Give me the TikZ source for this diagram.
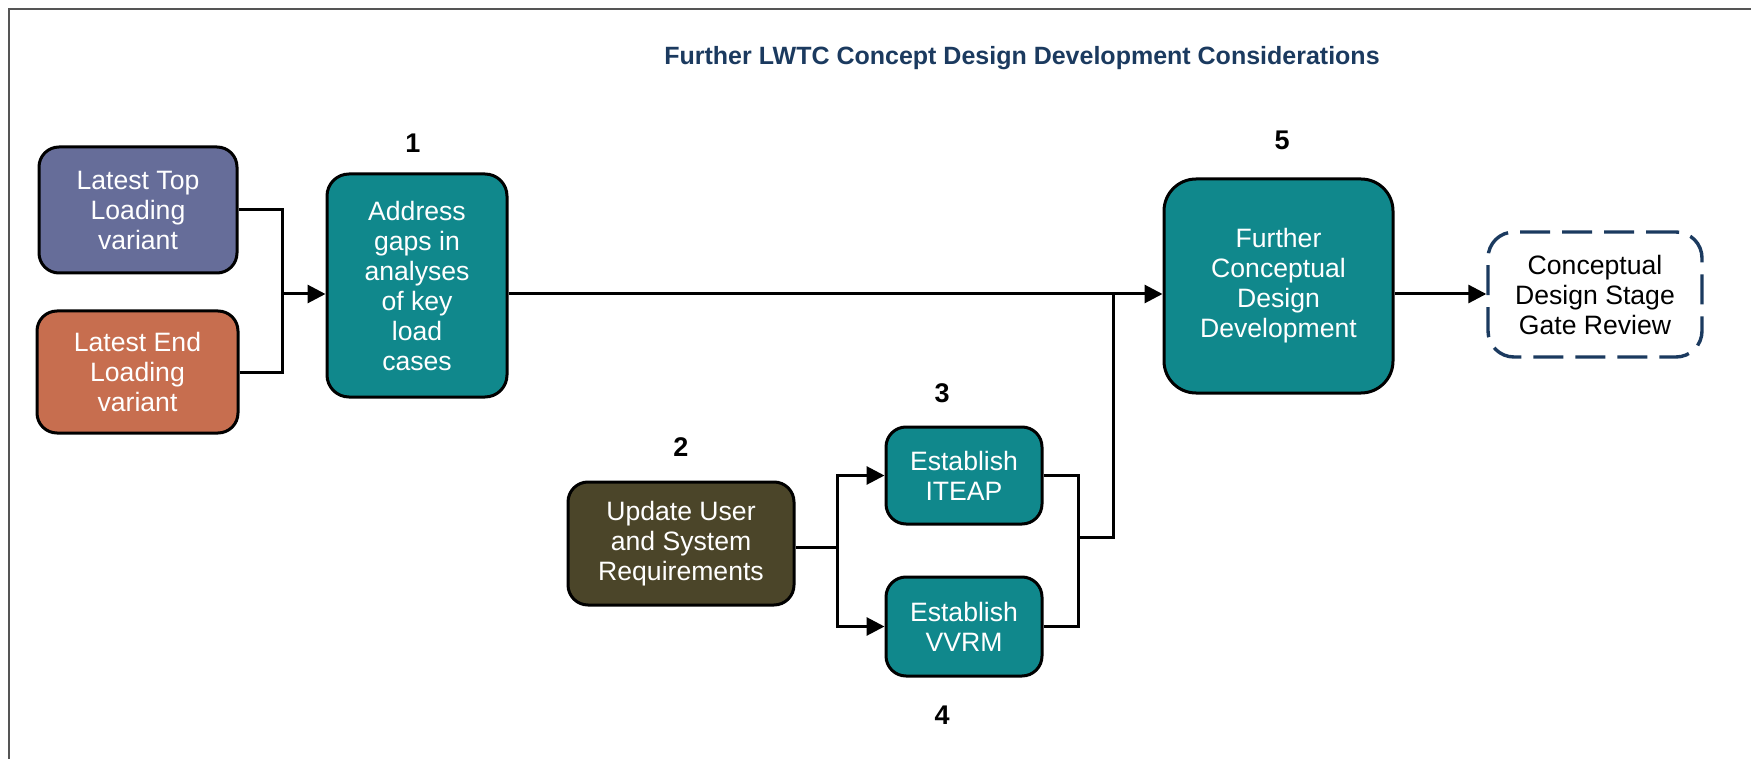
\documentclass[tikz,border=0pt]{standalone}
\usepackage{fontspec}
\setmainfont{Liberation Sans}
\usetikzlibrary{arrows.meta}
\definecolor{slate}{HTML}{666D99}
\definecolor{rust}{HTML}{C76E4F}
\definecolor{tealbox}{HTML}{10888C}
\definecolor{olivebox}{HTML}{4B4529}
\definecolor{navy}{HTML}{1B3A5F}
\definecolor{frame}{HTML}{555555}
\begin{document}
\begin{tikzpicture}[x=0.5pt,y=-0.5pt,
  box/.style={draw=black, line width=1.5pt, rounded corners=10pt, align=center,
    text=white, font=\fontsize{13.3}{15}\selectfont, inner sep=0pt},
  gatebox/.style={box, draw=navy, fill=white, text=black, line width=1.7pt,
    dash pattern=on 15pt off 6pt, rounded corners=13pt},
  wire/.style={line width=1.5pt},
  arr/.style={wire, -{Triangle[length=9pt,width=9pt]}},
  num/.style={font=\bfseries\fontsize{13.5}{15}\selectfont}
]
\useasboundingbox (0,0) rectangle (1751,759);
% page frame (left and top edges)
\draw[frame, line width=0.8pt] (9,759) -- (9,9) -- (1751,9);

% title
\node[font=\bfseries\fontsize{12.5}{15}\selectfont, text=navy] (title) at (1022,58)
  {Further LWTC Concept Design Development Considerations};

% step numbers
\node[num] (n1) at (413,143) {1};
\node[num] (n2) at (681,447) {2};
\node[num] (n3) at (942,393) {3};
\node[num] (n4) at (942,715) {4};
\node[num] (n5) at (1282,140) {5};

% boxes
\node[box, fill=slate, minimum width=99pt, minimum height=63pt] (top) at (138,210)
  {Latest Top\\Loading\\variant};
\node[box, fill=rust, minimum width=100.5pt, minimum height=61pt] (endv) at (137.5,372)
  {Latest End\\Loading\\variant};
\node[box, fill=tealbox, minimum width=90pt, minimum height=111.5pt, rounded corners=11pt] (addr) at (417,285.5)
  {Address\\gaps in\\analyses\\of key\\load\\cases};
\node[box, fill=tealbox, minimum width=114.5pt, minimum height=107pt, rounded corners=16pt] (dev) at (1278.5,286)
  {Further\\Conceptual\\Design\\Development};
\node[gatebox, minimum width=107pt, minimum height=62.5pt] (gate) at (1595,294.5)
  {Conceptual\\Design Stage\\Gate Review};
\node[box, fill=olivebox, minimum width=113pt, minimum height=61.5pt] (req) at (681,543.5)
  {Update User\\and System\\Requirements};
\node[box, fill=tealbox, minimum width=78pt, minimum height=48.5pt] (iteap) at (964,475.5)
  {Establish\\ITEAP};
\node[box, fill=tealbox, minimum width=78pt, minimum height=49.5pt] (vvrm) at (964,626.5)
  {Establish\\VVRM};

% junction points
\coordinate (feed) at (282,294);
\coordinate (spine) at (1113,294);
\coordinate (merge) at (1078,537);
\coordinate (split) at (837,547);

% connectors
\draw[wire] (top.east) -| (feed);
\draw[wire] (endv.east) -| (feed);
\draw[arr] (feed) -- (feed -| addr.west);
\draw[arr] (addr.east |- feed) -- (dev.west |- feed);
\draw[wire] (iteap.east) -| (merge);
\draw[wire] (vvrm.east) -| (merge);
\draw[wire] (merge) -| (spine);
\draw[arr] (dev.east |- feed) -- (gate.west |- feed);
\draw[wire] (req.east |- split) -- (split);
\draw[arr] (split) |- (iteap.west);
\draw[arr] (split) |- (vvrm.west);
\end{tikzpicture}
\end{document}
